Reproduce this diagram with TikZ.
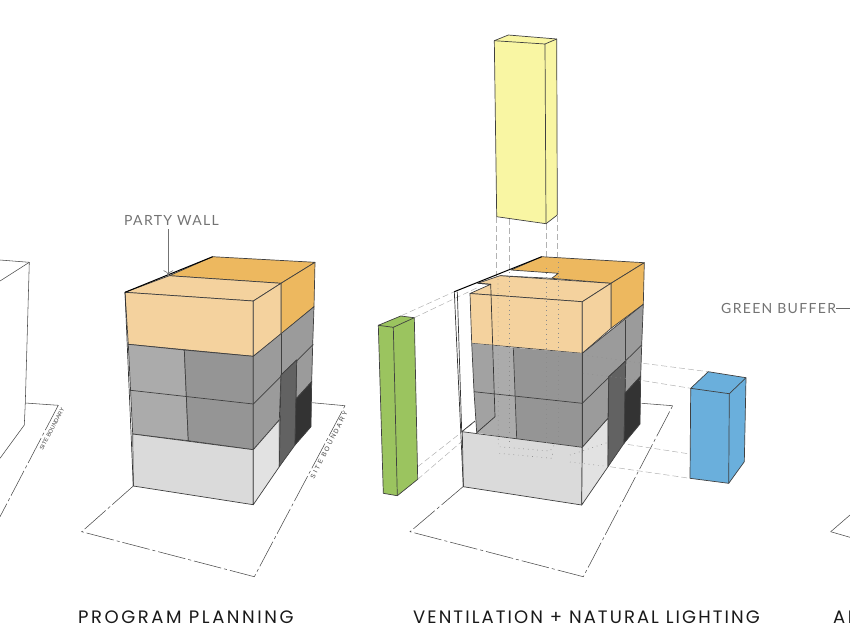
\documentclass[tikz,border=0pt]{standalone}
\usepackage{fontspec}
\usepackage{tikz}
\usetikzlibrary{arrows,arrows.meta,calc,positioning}
\newfontfamily\titlefont[LetterSpace=14.2]{Poppins}
\newfontfamily\titlefontb[LetterSpace=11.5]{Poppins}
\newfontfamily\notefont[LetterSpace=9.5]{Lato}
\newfontfamily\smallfont{Liberation Sans}
\newfontfamily\smallfontb[LetterSpace=30]{Liberation Sans}
\definecolor{lightorange}{HTML}{F4D29E}
\definecolor{darkorange}{HTML}{EDB85F}
\definecolor{blockgray}{HTML}{ABABAB}
\definecolor{wallgray}{HTML}{A2A2A2}
\definecolor{frontgray}{HTML}{959595}
\definecolor{sidegray}{HTML}{9B9B9B}
\definecolor{basegray}{HTML}{DADADA}
\definecolor{sidebase}{HTML}{E2E2E2}
\definecolor{panelgray}{HTML}{626262}
\definecolor{paneldark}{HTML}{333333}
\definecolor{buffergreen}{HTML}{9BC45F}
\definecolor{shaftyellow}{HTML}{F9F6A3}
\definecolor{voidblue}{HTML}{6AAFDC}
\tikzset{
    edge/.style={draw=black!75, line width=0.7pt, line join=round},
    sitebound/.style={draw=black!70, line width=0.55pt, dash pattern=on 28pt off 3pt on 3pt off 3pt},
    planline/.style={draw=black!70, line width=0.55pt},
    projline/.style={draw=black!30, line width=0.5pt, dash pattern=on 6pt off 3pt},
    hiddenline/.style={draw=black!45, line width=0.6pt, dash pattern=on 0.7pt off 4pt},
    title/.style={inner sep=0pt, font=\titlefont\fontsize{18}{20}\selectfont, text=black!90},
    note/.style={inner sep=0pt, font=\notefont\fontsize{14}{16}\selectfont, text=black!55},
    boundlabel/.style={inner sep=0pt, font=\smallfontb\fontsize{6.5}{7}\selectfont, text=black!75}
}
\begin{document}
\begin{tikzpicture}[x=1pt,y=-1pt]
    \useasboundingbox (0,0) rectangle (850,630);
    % site plans
    \draw[planline] (0,260) -- (29.3,262.3) -- (25.3,403) -- (24.3,425) -- (0,458.3);
    \draw[planline] (0,281) -- (29.3,262.3);
    \draw[planline] (25.3,403) -- (58.3,405.3);
    \draw[sitebound] (58.3,405.3) -- (0,516.7);
    \node[boundlabel, font=\smallfont\fontsize{5.7}{6}\selectfont, rotate=62] (bound1) at (52,429) {SITE BOUNDARY};
    \draw[planline] (830.7,531.7) -- (850,515);
    \draw[planline] (830.7,531.7) -- (850,537.3);

    % program planning massing
    \draw[sitebound] (133.3,486) -- (81.7,531.7) -- (254.3,576.7) -- (345,405.7);
    \draw[planline] (345,405.7) -- (312.3,402.7);
    \node[boundlabel, rotate=63] (bound2) at (329,445) {SITE BOUNDARY};
    \filldraw[edge, fill=darkorange] (212.7,256.7) -- (315,262.3) -- (281,283.3) -- (169.3,275.7) -- cycle;
    \filldraw[edge, fill=darkorange] (315,262.3) -- (314,306.7) -- (281,334.3) -- (281,283.3) -- cycle;
    \filldraw[edge, fill=lightorange] (125,292.3) -- (169.3,275.7) -- (281,283.3) -- (253.3,301) -- cycle;
    \filldraw[edge, fill=lightorange] (125,292.3) -- (253.3,301) -- (253.3,356.3) -- (128.3,344.3) -- cycle;
    \filldraw[edge, fill=lightorange] (253.3,301) -- (281,283.3) -- (281,334.3) -- (253.3,356.3) -- cycle;
    \filldraw[edge, fill=blockgray] (128.3,344.3) -- (184.3,350) -- (188.3,440.7) -- (132.7,434) -- cycle;
    \filldraw[edge, fill=frontgray] (184.3,350) -- (253.3,356.3) -- (253.3,449.7) -- (188.3,440.7) -- cycle;
    \draw[edge] (130.7,390.3) -- (253.3,404);
    \filldraw[edge, fill=sidegray] (253.3,356.3) -- (314,306.7) -- (312.7,344.3) -- (311.7,381.7) -- (296,399) -- (296.7,360) -- (281,375) -- (279.3,420) -- (253.3,449.7) -- cycle;
    \draw[edge] (253.3,404) -- (313.3,344.3);
    \draw[edge] (281,334.3) -- (281,375);
    \filldraw[edge, fill=basegray] (132.7,434) -- (253.3,449.7) -- (253.3,504.7) -- (133.3,486) -- cycle;
    \filldraw[edge, fill=sidebase] (253.3,449.7) -- (279.3,420) -- (279.3,466.7) -- (253.3,504.7) -- cycle;
    \filldraw[edge, fill=panelgray] (281,375) -- (296.7,360) -- (295,445) -- (279.3,466.7) -- cycle;
    \filldraw[edge, fill=paneldark] (311.7,381.7) -- (296,399) -- (295,445) -- (311,426.7) -- cycle;
    \draw[edge, black!80] (125,292.3) -- (133.3,486);
    \draw[edge, black, line width=1pt] (125,292.3) -- (212.7,256.7);
    \node[note] (partywall) at (171.5,220) {PARTY WALL};
    \coordinate (partytip) at (168.3,275);
    \draw[draw=black!55, line width=0.6pt, -{To[scale=1.6]}] (partywall.south -| partytip) ++(0,4) -- (partytip);

    % ventilation + natural lighting massing
    \draw[sitebound] (463,486.7) -- (410,531.7) -- (583.3,576.7) -- (672.7,405.7);
    \draw[planline] (672.7,405.7) -- (641.7,403.3);
    \draw[projline] (401.7,315.5) -- (454.3,291.7);
    \draw[projline] (414.3,317.7) -- (476.7,288);
    \draw[projline] (417.7,466.7) -- (475,421.7);
    \draw[projline] (417.7,479.3) -- (462.3,441);
    \draw[projline] (496.7,217) -- (496.7,282);
    \draw[projline] (509.3,219) -- (509.3,272);
    \draw[projline] (546,224) -- (546,262);
    \draw[projline] (557.7,216) -- (557.7,262);
    \draw[projline] (643.3,363.3) -- (708.3,371.7);
    \draw[projline] (643.3,380.7) -- (690.7,388.3);
    \draw[projline] (610,441.7) -- (690,454);
    \draw[projline] (610,466.7) -- (690,478.3);
    \fill[white] (511,270) -- (558.3,273.3) -- (551.7,278.3) -- (500,275.7) -- cycle;
    \filldraw[edge, fill=darkorange] (541.7,256.7) -- (644.3,262.7) -- (611,283.3) -- (551.7,278.3) -- (558.3,273.3) -- (511,270) -- cycle;
    \filldraw[edge, fill=darkorange] (644.3,262.7) -- (643.3,304.3) -- (611,328.3) -- (611,283.3) -- cycle;
    \draw[edge] (500,275.7) -- (551.7,278.3);
    \filldraw[edge, fill=lightorange] (500,275.7) -- (611,283.3) -- (582.3,301.7) -- (470,293.5) -- (490.7,284.3) -- (477.7,283.3) -- cycle;
    \filldraw[edge, fill=lightorange] (470,293.5) -- (582.3,301.7) -- (582.3,353.3) -- (471.7,343.3) -- cycle;
    \filldraw[edge, fill=lightorange] (582.3,301.7) -- (611,283.3) -- (611,328.3) -- (582.3,353.3) -- cycle;
    \fill[wallgray] (471.7,343.3) -- (493,345.4) -- (495,416.7) -- (476.7,432.7) -- (474,391.7) -- cycle;
    \fill[blockgray] (493,345.4) -- (513.3,347.7) -- (516.7,439) -- (476.7,432.7) -- (495,416.7) -- cycle;
    \fill[frontgray] (513.3,347.7) -- (582.3,353.3) -- (582.3,447.3) -- (516.7,439) -- cycle;
    \draw[edge] (471.7,343.3) -- (474,391.7) -- (476.7,432.7);
    \draw[edge] (513.3,347.7) -- (516.7,439);
    \draw[edge] (474,391.7) -- (582.3,403.3);
    \filldraw[edge, fill=sidegray] (582.3,353.3) -- (643.3,304.3) -- (641.7,345) -- (640.7,376) -- (625,393.3) -- (625.7,361) -- (608.7,376.7) -- (608,418.3) -- (582.3,447.3) -- cycle;
    \draw[edge] (582.3,403.3) -- (641.7,345);
    \draw[edge] (625.7,320) -- (625.7,361);
    \filldraw[edge, fill=basegray] (462.3,431.7) -- (582.3,447.3) -- (581.7,505) -- (463.3,486.7) -- cycle;
    \filldraw[edge, fill=sidebase] (582.3,447.3) -- (608,418.3) -- (608,466.7) -- (581.7,505) -- cycle;
    \filldraw[edge, fill=panelgray] (608.7,376.7) -- (625.7,361) -- (624,443.3) -- (608,466.7) -- cycle;
    \filldraw[edge, fill=paneldark] (640.7,376) -- (625,393.3) -- (624,443.3) -- (640,424) -- cycle;
    \draw[edge] (582.3,353.3) -- (582.3,447.3);
    % shaft and void lines inside the block
    \draw[hiddenline] (498,279) -- (498.3,446.7) -- (550,451) -- (558,440);
    \draw[hiddenline] (509.3,272) -- (509.3,443);
    \draw[hiddenline] (546.7,268) -- (546.7,444);
    \draw[hiddenline] (558,262) -- (558,442);
    \draw[hiddenline] (499.3,453.3) -- (551.7,458.3) -- (553.3,450);
    \draw[hiddenline] (583,355) -- (643.3,363.3);
    \draw[hiddenline] (583,373.3) -- (643.3,380.7);
    \draw[hiddenline] (570,455) -- (610,441.7);
    \draw[hiddenline] (570,462) -- (610,466.7);
    % party wall opening
    \draw[edge, black!80] (454.3,291.7) -- (463.3,486.7);
    \draw[edge, black!80] (457.3,291.7) -- (461.7,431.7);
    \draw[edge, black!80] (477.7,283.3) -- (490.7,284.3) -- (495,416.7) -- (476.7,432.7);
    \draw[edge, black!80] (461.7,431.7) -- (475,421);
    \draw[edge, black, line width=1pt] (454.3,291.7) -- (541.7,256.7);

    % green buffer wall
    \filldraw[edge, fill=buffergreen] (378.3,325.3) -- (400.7,316) -- (414.3,317.7) -- (417.7,479.3) -- (397.3,495.7) -- (383.3,493.3) -- cycle;
    \draw[edge] (378.3,325.3) -- (393.3,327.3) -- (397.3,495.7);
    \draw[edge] (393.3,327.3) -- (414.3,317.7);

    % yellow light shaft
    \filldraw[edge, fill=shaftyellow] (494.3,40.7) -- (508.3,35) -- (556.7,39) -- (557.3,215) -- (546,223.7) -- (496.7,216.7) -- cycle;
    \draw[edge] (494.3,40.7) -- (545,44) -- (546,223.7);
    \draw[edge] (545,44) -- (556.7,39);

    % blue void
    \filldraw[edge, fill=voidblue] (690.7,388.3) -- (708.3,371.7) -- (746,377.7) -- (744.3,461.7) -- (728.7,483.3) -- (690,478.3) -- cycle;
    \draw[edge] (690.7,388.3) -- (729.3,393.7) -- (728.7,483.3);
    \draw[edge] (729.3,393.7) -- (746,377.7);

    \node[note, anchor=west] (greenbuffer) at (721,308) {GREEN BUFFER};
    \coordinate (bufferend) at (850,308);
    \draw[draw=black!60, line width=0.6pt] (greenbuffer.east) -- (bufferend);

    \node[title, anchor=west] (planning) at (78,617.5) {PROGRAM PLANNING};
    \node[title, anchor=west, font=\titlefontb\fontsize{18}{20}\selectfont] (ventilation) at (413,617.5) {VENTILATION + NATURAL LIGHTING};
    \node[title, anchor=west] (nextpanel) at (833,617.5) {AI};
\end{tikzpicture}
\end{document}
